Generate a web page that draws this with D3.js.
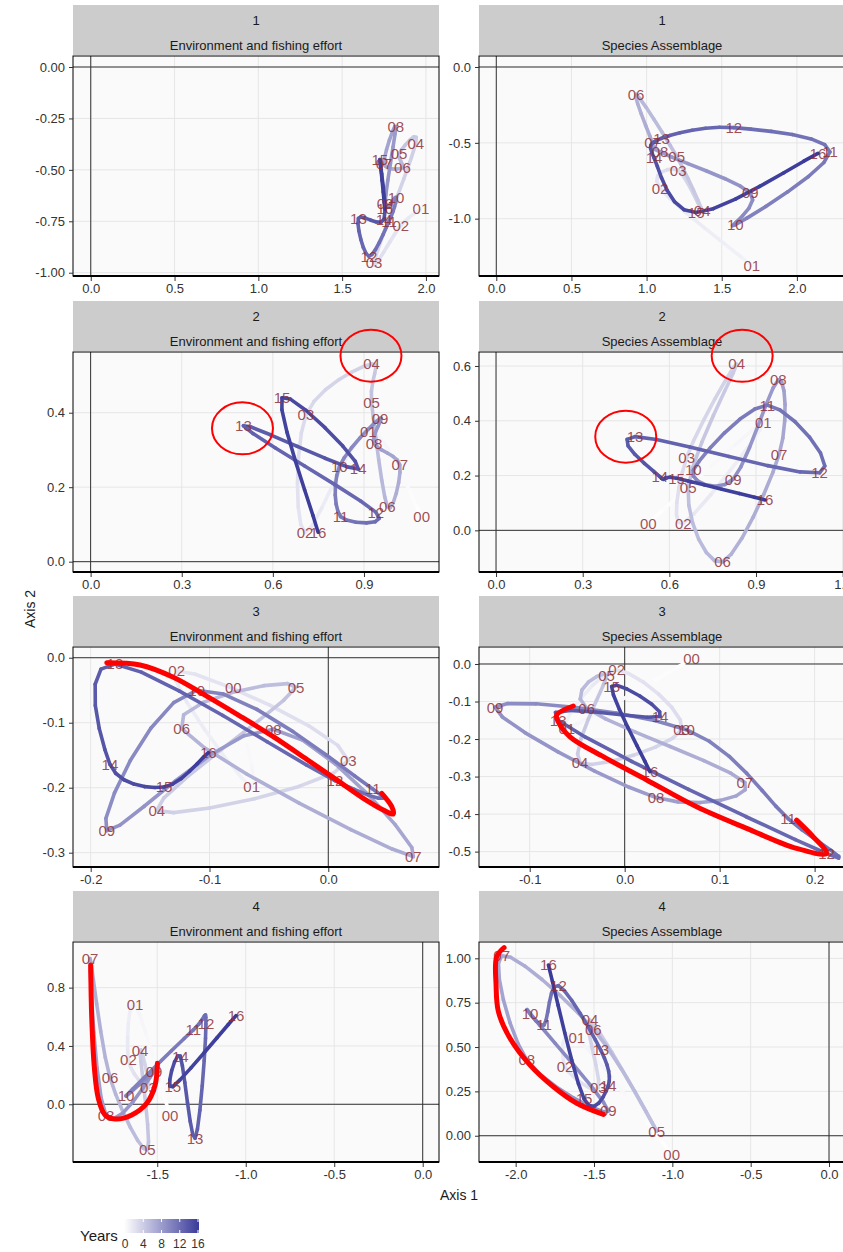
<!DOCTYPE html>
<html lang="en">
<head>
<meta charset="utf-8">
<script src="https://cdnjs.cloudflare.com/ajax/libs/d3/7.8.5/d3.min.js"></script>
<style>
  body { margin: 0; background: #fff; }
  svg text { font-family: "Liberation Sans", Arial, sans-serif; }
</style>
</head>
<body>
<svg id="chart" width="843" height="1252"></svg>
<script>
// year labels (00..16)
var years = ["00","01","02","03","04","05","06","07","08","09","10","11","12","13","14","15","16"];
var rowNames = ["1", "2", "3", "4"];
var colNames = ["Environment and fishing effort", "Species Assemblage"];

// trajectories, one x and y array per panel (null = not shown)
var env1X = [null, 1.97, 1.85, 1.69, 1.94, 1.84, 1.86, 1.75, 1.82, 1.756, 1.822, 1.78, 1.66, 1.597, 1.75, 1.725, 1.755];
var env1Y = [null, -0.69, -0.77, -0.95, -0.37, -0.42, -0.49, -0.47, -0.29, -0.666, -0.634, -0.75, -0.92, -0.736, -0.74, -0.45, -0.69];
var spe1X = [null, 1.70, 1.09, 1.21, 1.37, 1.20, 0.93, 1.04, 1.09, 1.69, 1.59, 2.22, 1.58, 1.10, 1.05, 1.33, 2.14];
var spe1Y = [null, -1.31, -0.80, -0.68, -0.95, -0.59, -0.18, -0.50, -0.56, -0.83, -1.04, -0.56, -0.40, -0.47, -0.60, -0.96, -0.57];
var env2X = [1.09, 0.914, 0.706, 0.709, 0.925, 0.925, 0.977, 1.018, 0.933, 0.953, 0.819, 0.823, 0.939, 0.503, 0.881, 0.63, 0.749];
var env2Y = [0.121, 0.349, 0.079, 0.394, 0.531, 0.427, 0.148, 0.26, 0.318, 0.385, 0.255, 0.121, 0.133, 0.365, 0.249, 0.44, 0.079];
var spe2X = [0.527, 0.925, 0.648, 0.66, 0.833, 0.665, 0.784, 0.98, 0.977, 0.821, 0.683, 0.939, 1.12, 0.481, 0.567, 0.625, 0.931];
var spe2Y = [0.026, 0.394, 0.026, 0.266, 0.607, 0.155, -0.115, 0.277, 0.549, 0.187, 0.22, 0.457, 0.21, 0.342, 0.196, 0.19, 0.111];
var env3X = [-0.08, -0.0645, -0.1276, 0.0168, -0.1444, -0.0272, -0.1234, 0.0716, -0.0463, -0.1865, -0.1108, 0.0374, 0.0056, -0.1796, -0.1838, -0.1383, -0.101];
var env3Y = [-0.0455, -0.199, -0.02, -0.158, -0.235, -0.0455, -0.109, -0.306, -0.11, -0.266, -0.05, -0.202, -0.189, -0.0097, -0.164, -0.199, -0.146];
var spe3X = [0.0705, -0.061, -0.0084, 0.06, -0.047, -0.019, -0.04, 0.1266, 0.033, -0.1365, 0.065, 0.172, 0.2126, -0.07, 0.0372, -0.0137, 0.0266];
var spe3Y = [0.0133, -0.171, -0.016, -0.175, -0.263, -0.032, -0.118, -0.316, -0.356, -0.115, -0.175, -0.412, -0.505, -0.15, -0.14, -0.06, -0.287];
var env4X = [-1.428, -1.625, -1.663, -1.55, -1.597, -1.556, -1.767, -1.88, -1.789, -1.518, -1.676, -1.296, -1.225, -1.286, -1.37, -1.412, -1.055];
var env4Y = [-0.078, 0.681, 0.304, 0.114, 0.366, -0.313, 0.183, 1.0, -0.078, 0.224, 0.059, 0.51, 0.55, -0.233, 0.33, 0.121, 0.608];
var spe4X = [-1.004, -1.61, -1.685, -1.472, -1.525, -1.1, -1.504, -2.089, -1.929, -1.409, -1.908, -1.819, -1.727, -1.457, -1.409, -1.563, -1.791];
var spe4Y = [-0.105, 0.552, 0.389, 0.271, 0.652, 0.026, 0.601, 1.015, 0.427, 0.139, 0.69, 0.624, 0.846, 0.483, 0.282, 0.207, 0.962];

// axis limits and ticks per panel
var env1XDom = [-0.106, 2.078], env1YDom = [-1.016, 0.0535];
var spe1XDom = [-0.115, 2.32],  spe1YDom = [-1.378, 0.0725];
var env2XDom = [-0.058, 1.147], env2YDom = [-0.0277, 0.563];
var spe2XDom = [-0.059, 1.208], spe2YDom = [-0.152, 0.651];
var env3XDom = [-0.2149, 0.0932], env3YDom = [-0.322, 0.0165];
var spe3XDom = [-0.1534, 0.232], spe3YDom = [-0.541, 0.0453];
var env4XDom = [-1.976, 0.092], env4YDom = [-0.396, 1.113];
var spe4XDom = [-2.234, 0.102], spe4YDom = [-0.148, 1.092];

var env1XTicks = [0, 0.5, 1, 1.5, 2], env1YTicks = [-1, -0.75, -0.5, -0.25, 0];
var spe1XTicks = [0, 0.5, 1, 1.5, 2], spe1YTicks = [-1, -0.5, 0];
var env2XTicks = [0, 0.3, 0.6, 0.9], env2YTicks = [0, 0.2, 0.4];
var spe2XTicks = [0, 0.3, 0.6, 0.9, 1.2], spe2YTicks = [0, 0.2, 0.4, 0.6];
var env3XTicks = [-0.2, -0.1, 0], env3YTicks = [-0.3, -0.2, -0.1, 0];
var spe3XTicks = [-0.1, 0, 0.1, 0.2], spe3YTicks = [-0.5, -0.4, -0.3, -0.2, -0.1, 0];
var env4XTicks = [-1.5, -1, -0.5, 0], env4YTicks = [0, 0.4, 0.8];
var spe4XTicks = [-2, -1.5, -1, -0.5, 0], spe4YTicks = [0, 0.25, 0.5, 0.75, 1];

// hand-drawn red highlights (data coordinates)
var circ2EnvX = [0.5, 0.923], circ2EnvY = [0.358, 0.553];
var circ2SpeX = [0.449, 0.852], circ2SpeY = [0.342, 0.637];
var arrow3EnvX = [-0.1865, -0.1585, -0.1305, -0.1024, -0.0743, -0.0463, -0.0182, 0.0071, 0.0295, 0.0463, 0.0547, 0.0534, 0.045];
var arrow3EnvY = [-0.0077, -0.0112, -0.030, -0.059, -0.0897, -0.1215, -0.1563, -0.188, -0.2163, -0.2343, -0.2405, -0.229, -0.2086];
var arrow3SpeX = [0.181, 0.1986, 0.2126, 0.181, 0.1284, 0.0758, 0.0232, -0.0225, -0.0576, -0.07, -0.0716, -0.0541];
var arrow3SpeY = [-0.416, -0.4605, -0.505, -0.4915, -0.438, -0.3805, -0.309, -0.247, -0.194, -0.154, -0.136, -0.112];
var arrow4EnvX = [-1.876, -1.870, -1.855, -1.833, -1.795, -1.738, -1.644, -1.559, -1.512, -1.499];
var arrow4EnvY = [0.955, 0.59, 0.247, 0.041, -0.073, -0.101, -0.073, 0.007, 0.132, 0.281];
var arrow4SpeX = [-2.074, -2.121, -2.125, -2.11, -2.036, -1.908, -1.759, -1.61, -1.44];
var arrow4SpeY = [1.06, 1.009, 0.849, 0.699, 0.549, 0.398, 0.276, 0.183, 0.12];

var legendTicks = [0, 4, 8, 12, 16];

// layout
var colX = [73, 479];
var stripTop = [5, 301, 596, 891];
var panelW = 366, panelH = 220, stripH = 50;

var svg = d3.select("#chart");
svg.append("rect").attr("width", 843).attr("height", 1252).attr("fill", "#fff");

var color = d3.scaleLinear().domain([0, 16]).range(["#ffffff", "#3a3a9a"]);

function fmt(d, digits) {
  return d3.format("." + digits + "f")(d).replace("\u2212", "-");
}

var panels = [
  {row: 0, col: 0, x: env1X, y: env1Y, xd: env1XDom, yd: env1YDom, xt: env1XTicks, yt: env1YTicks, xf: 1, yf: 2},
  {row: 0, col: 1, x: spe1X, y: spe1Y, xd: spe1XDom, yd: spe1YDom, xt: spe1XTicks, yt: spe1YTicks, xf: 1, yf: 1},
  {row: 1, col: 0, x: env2X, y: env2Y, xd: env2XDom, yd: env2YDom, xt: env2XTicks, yt: env2YTicks, xf: 1, yf: 1,
   circles: [circ2EnvX, circ2EnvY]},
  {row: 1, col: 1, x: spe2X, y: spe2Y, xd: spe2XDom, yd: spe2YDom, xt: spe2XTicks, yt: spe2YTicks, xf: 1, yf: 1,
   circles: [circ2SpeX, circ2SpeY]},
  {row: 2, col: 0, x: env3X, y: env3Y, xd: env3XDom, yd: env3YDom, xt: env3XTicks, yt: env3YTicks, xf: 1, yf: 1,
   arrow: [arrow3EnvX, arrow3EnvY]},
  {row: 2, col: 1, x: spe3X, y: spe3Y, xd: spe3XDom, yd: spe3YDom, xt: spe3XTicks, yt: spe3YTicks, xf: 1, yf: 1,
   arrow: [arrow3SpeX, arrow3SpeY]},
  {row: 3, col: 0, x: env4X, y: env4Y, xd: env4XDom, yd: env4YDom, xt: env4XTicks, yt: env4YTicks, xf: 1, yf: 1,
   arrow: [arrow4EnvX, arrow4EnvY]},
  {row: 3, col: 1, x: spe4X, y: spe4Y, xd: spe4XDom, yd: spe4YDom, xt: spe4XTicks, yt: spe4YTicks, xf: 1, yf: 2,
   arrow: [arrow4SpeX, arrow4SpeY]}
];

function bez(p0, c1, c2, p1, t) {
  var u = 1 - t;
  return [
    u*u*u*p0[0] + 3*u*u*t*c1[0] + 3*u*t*t*c2[0] + t*t*t*p1[0],
    u*u*u*p0[1] + 3*u*u*t*c1[1] + 3*u*t*t*c2[1] + t*t*t*p1[1]
  ];
}

// smooth path coloured by year (catmull-rom segments)
function drawTrajectory(g, pts) {
  for (var i = 0; i < pts.length - 1; i++) {
    if (!pts[i] || !pts[i + 1]) continue;
    var p0 = pts[i - 1] || pts[i], p1 = pts[i], p2 = pts[i + 1], p3 = pts[i + 2] || pts[i + 1];
    var c1 = [p1[0] + (p2[0] - p0[0]) / 6, p1[1] + (p2[1] - p0[1]) / 6];
    var c2 = [p2[0] - (p3[0] - p1[0]) / 6, p2[1] - (p3[1] - p1[1]) / 6];
    var steps = 6, prev = p1;
    for (var s = 1; s <= steps; s++) {
      var pt = bez(p1, c1, c2, p2, s / steps);
      g.append("line")
        .attr("x1", prev[0]).attr("y1", prev[1])
        .attr("x2", pt[0]).attr("y2", pt[1])
        .attr("stroke", color(i + (s - 0.5) / steps))
        .attr("stroke-width", 3.6)
        .attr("stroke-linecap", "round");
      prev = pt;
    }
  }
}

var overlay = [];

panels.forEach(function(p, k) {
  var x0 = colX[p.col], sTop = stripTop[p.row], y0 = sTop + stripH + 1;
  var xs = d3.scaleLinear().domain(p.xd).range([x0, x0 + panelW]);
  var ys = d3.scaleLinear().domain(p.yd).range([y0 + panelH, y0]);
  var g = svg.append("g");

  // strip
  g.append("rect").attr("x", x0).attr("y", sTop).attr("width", panelW).attr("height", stripH)
    .attr("fill", "#cccccc");
  g.append("text").attr("x", x0 + panelW / 2).attr("y", sTop + 15).attr("dy", "0.35em")
    .attr("text-anchor", "middle").attr("font-size", 13).attr("fill", "#1a1a1a").text(rowNames[p.row]);
  g.append("text").attr("x", x0 + panelW / 2).attr("y", sTop + 40).attr("dy", "0.35em")
    .attr("text-anchor", "middle").attr("font-size", 13).attr("fill", "#1a1a1a").text(colNames[p.col]);

  // panel background + grid
  g.append("rect").attr("x", x0).attr("y", y0).attr("width", panelW).attr("height", panelH)
    .attr("fill", "#fafafa");
  g.selectAll(".vg").data(p.xt).enter().append("line")
    .attr("x1", function(d) { return xs(d); }).attr("x2", function(d) { return xs(d); })
    .attr("y1", y0).attr("y2", y0 + panelH).attr("stroke", "#e6e6e6").attr("stroke-width", 1);
  g.selectAll(".hg").data(p.yt).enter().append("line")
    .attr("y1", function(d) { return ys(d); }).attr("y2", function(d) { return ys(d); })
    .attr("x1", x0).attr("x2", x0 + panelW).attr("stroke", "#e6e6e6").attr("stroke-width", 1);

  var clipId = "clip" + k;
  svg.append("clipPath").attr("id", clipId).append("rect")
    .attr("x", x0).attr("y", y0).attr("width", panelW).attr("height", panelH);
  var inner = g.append("g").attr("clip-path", "url(#" + clipId + ")");

  // zero reference lines
  inner.append("line").attr("x1", x0).attr("x2", x0 + panelW).attr("y1", ys(0)).attr("y2", ys(0))
    .attr("stroke", "#333").attr("stroke-width", 1);
  inner.append("line").attr("x1", xs(0)).attr("x2", xs(0)).attr("y1", y0).attr("y2", y0 + panelH)
    .attr("stroke", "#333").attr("stroke-width", 1);

  var pts = p.x.map(function(v, i) {
    return v === null ? null : [xs(v), ys(p.y[i])];
  });
  drawTrajectory(inner, pts);

  var labelled = pts.map(function(d, i) { return d ? {pos: d, yr: years[i]} : null; })
    .filter(function(d) { return d !== null; });
  inner.selectAll(".yr").data(labelled).enter()
    .append("text")
    .attr("x", function(d) { return d.pos[0]; })
    .attr("y", function(d) { return d.pos[1]; })
    .attr("dy", "0.36em")
    .attr("text-anchor", "middle")
    .attr("font-size", 15)
    .attr("fill", "#8e2f37")
    .attr("fill-opacity", 0.85)
    .text(function(d) { return d.yr; });

  // border
  g.append("rect").attr("x", x0).attr("y", y0).attr("width", panelW).attr("height", panelH)
    .attr("fill", "none").attr("stroke", "#000").attr("stroke-width", 1);
  g.append("line").attr("x1", x0).attr("x2", x0 + panelW).attr("y1", y0 + panelH).attr("y2", y0 + panelH)
    .attr("stroke", "#000").attr("stroke-width", 2.2);

  // axes
  var xa = g.append("g").attr("transform", "translate(0," + (y0 + panelH + 1) + ")")
    .call(d3.axisBottom(xs).tickValues(p.xt).tickSize(4).tickPadding(3)
      .tickFormat(function(d) { return fmt(d, p.xf); }));
  var ya = g.append("g").attr("transform", "translate(" + x0 + ",0)")
    .call(d3.axisLeft(ys).tickValues(p.yt).tickSize(4).tickPadding(4)
      .tickFormat(function(d) { return fmt(d, p.yf); }));
  [xa, ya].forEach(function(a) {
    a.select(".domain").remove();
    a.selectAll(".tick line").attr("stroke", "#333");
    a.selectAll(".tick text").attr("fill", "#333").attr("font-size", 13)
      .style("font-family", "'Liberation Sans', Arial, sans-serif");
  });

  overlay.push({p: p, xs: xs, ys: ys});
});

// red highlights drawn on top, unclipped
var redLine = d3.line().curve(d3.curveCatmullRom.alpha(0.5));
overlay.forEach(function(o) {
  var p = o.p;
  if (p.circles) {
    p.circles[0].forEach(function(cx, i) {
      svg.append("ellipse")
        .attr("cx", o.xs(cx)).attr("cy", o.ys(p.circles[1][i]))
        .attr("rx", 30.5).attr("ry", 26)
        .attr("fill", "none").attr("stroke", "#ff0000").attr("stroke-width", 2);
    });
  }
  if (p.arrow) {
    var ap = p.arrow[0].map(function(v, i) { return [o.xs(v), o.ys(p.arrow[1][i])]; });
    svg.append("path").attr("d", redLine(ap))
      .attr("fill", "none").attr("stroke", "#ff0000").attr("stroke-width", 5)
      .attr("stroke-linecap", "round").attr("stroke-linejoin", "round");
  }
});

// axis titles
svg.append("text").attr("x", 459).attr("y", 1195).attr("dy", "0.35em").attr("text-anchor", "middle")
  .attr("font-size", 14).attr("fill", "#1a1a1a").text("Axis 1");
svg.append("text").attr("transform", "translate(30,609) rotate(-90)").attr("dy", "0.35em")
  .attr("text-anchor", "middle").attr("font-size", 14).attr("fill", "#1a1a1a").text("Axis 2");

// legend
var lx = d3.scaleLinear().domain([0, 16]).range([125, 198]);
var grad = svg.append("defs").append("linearGradient").attr("id", "yrgrad");
grad.append("stop").attr("offset", "0%").attr("stop-color", color(0));
grad.append("stop").attr("offset", "100%").attr("stop-color", color(16));
svg.append("rect").attr("x", lx(0) - 1).attr("y", 1219).attr("width", lx(16) - lx(0) + 2).attr("height", 14)
  .attr("fill", "url(#yrgrad)");
svg.selectAll(".lt").data(legendTicks).enter().append("line")
  .attr("x1", function(d) { return lx(d); }).attr("x2", function(d) { return lx(d); })
  .attr("y1", 1219).attr("y2", 1222).attr("stroke", "#fff").attr("stroke-width", 1);
svg.selectAll(".lb").data(legendTicks).enter().append("line")
  .attr("x1", function(d) { return lx(d); }).attr("x2", function(d) { return lx(d); })
  .attr("y1", 1230).attr("y2", 1233).attr("stroke", "#fff").attr("stroke-width", 1);
svg.selectAll(".ll").data(legendTicks).enter().append("text")
  .attr("x", function(d) { return lx(d); }).attr("y", 1244).attr("dy", "0.35em")
  .attr("text-anchor", "middle").attr("font-size", 12).attr("fill", "#333")
  .text(function(d) { return d; });
svg.append("text").attr("x", 80).attr("y", 1236).attr("dy", "0.35em")
  .attr("font-size", 15).attr("fill", "#1a1a1a").text("Years");
</script>
</body>
</html>
